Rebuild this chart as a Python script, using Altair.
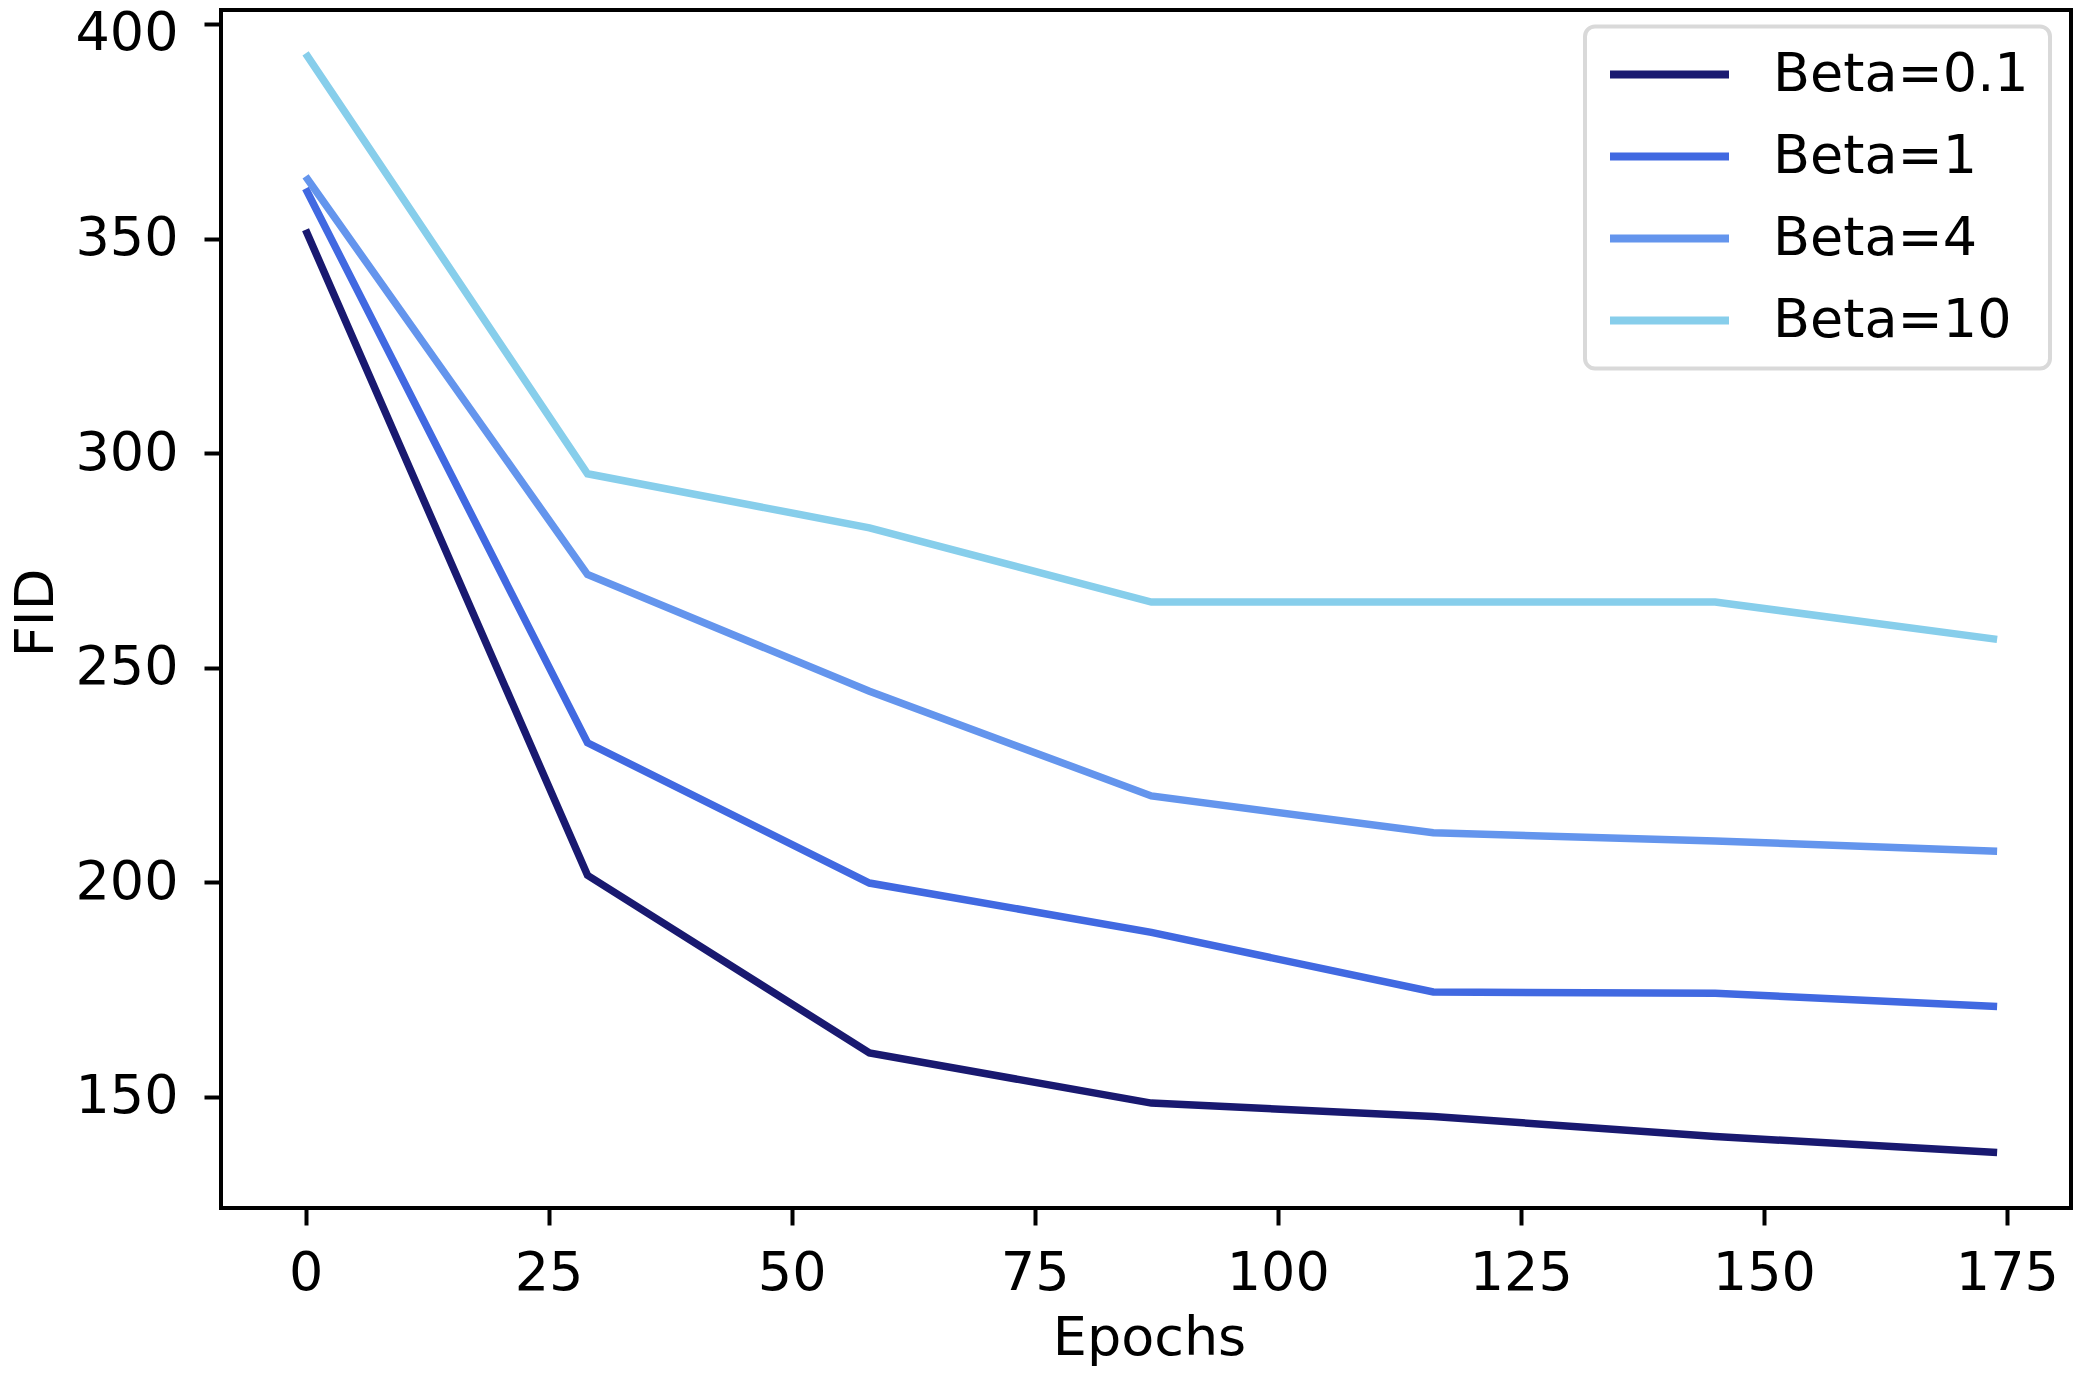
import altair as alt
import pandas as pd

epochs = [0, 29, 58, 87, 116, 145, 174]
beta_labels = ["Beta=0.1", "Beta=1", "Beta=4", "Beta=10"]
fid_beta_01 = [352.1, 201.6, 160.2, 148.5, 145.4, 140.7, 137.0]
fid_beta_1 = [361.7, 232.5, 199.8, 188.3, 174.4, 174.1, 171.0]
fid_beta_4 = [364.5, 271.7, 244.5, 220.1, 211.5, 209.6, 207.2]
fid_beta_10 = [393.2, 295.2, 282.6, 265.3, 265.3, 265.3, 256.6]
colors = ["#191970", "#4169E1", "#6495ED", "#87CEEB"]
x_ticks = [0, 25, 50, 75, 100, 125, 150, 175]
y_ticks = [150, 200, 250, 300, 350, 400]

series = [fid_beta_01, fid_beta_1, fid_beta_4, fid_beta_10]
rows = []
for label, vals in zip(beta_labels, series):
    for e, v in zip(epochs, vals):
        rows.append({"Epochs": e, "FID": v, "Beta": label})
df = pd.DataFrame(rows)

FONT = "DejaVu Sans"
FS = 54
W, H = 1850, 1198

chart = alt.Chart(df).mark_line(strokeWidth=7.5).encode(
    x=alt.X("Epochs:Q",
            scale=alt.Scale(domain=[-8.7, 181.6], nice=False, zero=False),
            axis=alt.Axis(values=x_ticks, title="Epochs", grid=False, domain=False,
                          tickSize=17, tickWidth=4, tickColor="black",
                          labelFont=FONT, labelFontSize=FS, labelColor="black",
                          labelBaseline="alphabetic", labelPadding=64,
                          labelFlush=False, labelOverlap=False,
                          titleFont=FONT, titleFontSize=FS, titleFontWeight="normal",
                          titleColor="black", titleBaseline="alphabetic",
                          titleX=928, titleY=146, titleAlign="center")),
    y=alt.Y("FID:Q",
            scale=alt.Scale(domain=[124.05, 403.3], nice=False, zero=False),
            axis=alt.Axis(values=y_ticks, title="FID", grid=False, domain=False,
                          tickSize=17, tickWidth=4, tickColor="black",
                          labelFont=FONT, labelFontSize=FS, labelColor="black",
                          labelPadding=26, labelFlush=False, labelOverlap=False,
                          labelOffset={"condition": {"test": "datum.value == 400", "value": 9},
                                       "value": 0},
                          titleFont=FONT, titleFontSize=FS, titleFontWeight="normal",
                          titleColor="black", titleBaseline="alphabetic",
                          titleAngle=270, titleAlign="center",
                          titleX=-169, titleY=602.5)),
    color=alt.Color("Beta:N",
                    scale=alt.Scale(domain=beta_labels, range=colors),
                    sort=beta_labels,
                    legend=alt.Legend(title=None, orient="none", legendX=1364, legendY=16.5,
                                      symbolType="stroke", symbolSize=14161,
                                      symbolStrokeWidth=8,
                                      labelFont=FONT, labelFontSize=FS, labelColor="black",
                                      labelLimit=0,
                                      labelOffset=40, padding=21, rowPadding=28,
                                      clipHeight=54, fillColor="white",
                                      strokeColor="#d9d9d9", cornerRadius=10)),
).properties(
    width=W, height=H,
    padding={"left": 213, "top": 2, "right": 2, "bottom": 161},
    autosize=alt.AutoSizeParams(type="none"),
    background="white",
).configure_view(
    stroke="black", strokeWidth=4
).configure_legend(
    strokeWidth=4
)

chart.save("out.html", embed_options={"renderer": "svg", "actions": False})
